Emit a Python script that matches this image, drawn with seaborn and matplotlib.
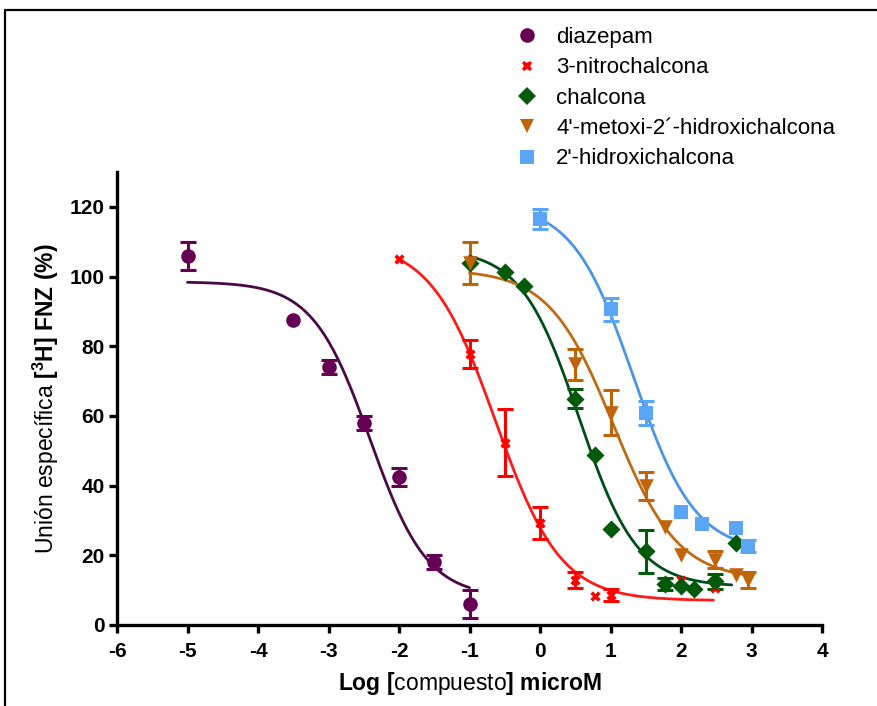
import numpy as np
import pandas as pd
import matplotlib
matplotlib.use("Agg")
import matplotlib.pyplot as plt
from matplotlib.lines import Line2D
import seaborn as sns

# ---------------- data ----------------
series_names = ["diazepam", "3-nitrochalcona", "chalcona",
                "4'-metoxi-2´-hidroxichalcona", "2'-hidroxichalcona"]

diaz_x = [-5, -3.5, -3, -2.5, -2, -1.5, -1]
diaz_y = [106, 87.5, 74, 58, 42.5, 18, 6]
diaz_err = [4, 0, 2, 2, 2.5, 2, 4]

nitro_x = [-2, -1, -0.5, 0, 0.5, 0.78, 1, 2, 2.48]
nitro_y = [105, 77.7, 52.3, 29.3, 12.9, 8.3, 8.6, 12.9, 10.6]
nitro_err = [0, 4, 9.6, 4.5, 2.2, 0, 1.7, 0, 0]

chal_x = [-1, -0.5, -0.22, 0.5, 0.78, 1, 1.5, 1.78, 2, 2.18, 2.48, 2.78]
chal_y = [103.9, 101.4, 97.4, 65, 48.7, 27.5, 21.1, 11.8, 11.2, 10.2, 12.5, 23.5]
chal_err = [0, 0, 0, 2.7, 0, 0, 6.3, 1.8, 0, 0, 2.2, 0]

metoxi_x = [-1, 0.5, 1, 1.5, 1.78, 2, 2.48, 2.78, 2.95]
metoxi_y = [104, 74.8, 60.9, 39.8, 28.1, 20.1, 18.7, 14.4, 12.9]
metoxi_err = [6, 4.5, 6.5, 4, 0, 0, 2.4, 0, 2.2]

hidroxi_x = [0, 1, 1.5, 2, 2.3, 2.78, 2.95]
hidroxi_y = [116.4, 90.6, 60.9, 32.3, 29.1, 27.8, 22.7]
hidroxi_err = [2.9, 3.3, 3.4, 0, 0, 0, 1.7]

# fitted sigmoid parameters
fit_top = [98.5, 110, 108, 102, 121]
fit_bottom = [8, 7, 11, 13, 21]
fit_logec50 = [-2.41, -0.63, 0.554, 1.04, 1.33]
fit_hill = [1.07, 0.94, 1.054, 0.95, 1.0]
fit_xmin = [-5, -2, -1, -1, 0]
fit_xmax = [-1, 2.46, 2.72, 2.9, 2.95]

x_ticks = [-6, -5, -4, -3, -2, -1, 0, 1, 2, 3, 4]
y_ticks = [0, 20, 40, 60, 80, 100, 120]

# ---------------- styles ----------------
marker_colors = ["#660055", "#FF0000", "#005A0A", "#C0640A", "#5AA5F5"]
line_colors = ["#4A0A48", "#FF1A1A", "#004D1A", "#C06A14", "#4A95E5"]
markers = ["o", "X", "D", "v", "s"]
marker_sizes = [110, 55, 85, 110, 90]

sns.set_theme(style="ticks")
plt.rcParams["font.family"] = ["Liberation Sans", "DejaVu Sans"]
plt.rcParams["mathtext.fontset"] = "custom"
plt.rcParams["mathtext.rm"] = "Liberation Sans"
plt.rcParams["mathtext.bf"] = "Liberation Sans:bold"
plt.rcParams["mathtext.it"] = "Liberation Sans:italic"
plt.rcParams["text.color"] = "black"
plt.rcParams["axes.labelcolor"] = "black"
plt.rcParams["xtick.color"] = "black"
plt.rcParams["ytick.color"] = "black"
plt.rcParams["xtick.labelcolor"] = "black"
plt.rcParams["ytick.labelcolor"] = "black"

fig = plt.figure(figsize=(8.78, 7.06), dpi=100)
ax = fig.add_axes([117 / 878, 1 - 625 / 706, (822 - 117) / 878, (625 - 172) / 706])

xs_all = [diaz_x, nitro_x, chal_x, metoxi_x, hidroxi_x]
ys_all = [diaz_y, nitro_y, chal_y, metoxi_y, hidroxi_y]
es_all = [diaz_err, nitro_err, chal_err, metoxi_err, hidroxi_err]

for i, name in enumerate(series_names):
    xc = np.linspace(fit_xmin[i], fit_xmax[i], 200)
    yc = fit_bottom[i] + (fit_top[i] - fit_bottom[i]) / (
        1 + 10 ** ((xc - fit_logec50[i]) * fit_hill[i]))
    sns.lineplot(x=xc, y=yc, color=line_colors[i], linewidth=2.0, ax=ax,
                 zorder=2, legend=False)

    df = pd.DataFrame({"x": xs_all[i], "y": ys_all[i], "err": es_all[i]})
    deb = df[df["err"] > 0]
    ax.errorbar(deb["x"], deb["y"], yerr=deb["err"], fmt="none",
                ecolor=marker_colors[i], elinewidth=2.2, capsize=5.5,
                capthick=2.2, zorder=3)
    sns.scatterplot(data=df, x="x", y="y", marker=markers[i],
                    color=marker_colors[i], s=marker_sizes[i],
                    linewidth=0, ax=ax, zorder=4, legend=False)

ax.set_xlim(-6, 4)
ax.set_ylim(0, 130)
ax.set_xticks(x_ticks)
ax.set_yticks(y_ticks)
ax.set_xticklabels([str(t) for t in x_ticks], fontsize=15, fontweight="bold")
ax.set_yticklabels([str(t) for t in y_ticks], fontsize=15, fontweight="bold")
for s in ["top", "right"]:
    ax.spines[s].set_visible(False)
for s in ["left", "bottom"]:
    ax.spines[s].set_linewidth(2.4)
    ax.spines[s].set_color("black")
ax.tick_params(axis="x", direction="out", length=6, width=2.4,
               color="black", pad=6)
ax.tick_params(axis="y", direction="out", length=6, width=2.4,
               color="black", pad=3)
ax.grid(False)

ax.set_xlabel(r"$\mathbf{Log\ [}$compuesto$\mathbf{]\ microM}$", fontsize=16.5,
              labelpad=7)
ax.set_ylabel(r"Unión específica $\mathbf{[^{3}H]\ FNZ\ (\%)}$", fontsize=16.5,
              labelpad=6)

# legend
handles = [Line2D([0], [0], marker=markers[i], color="none",
                  markerfacecolor=marker_colors[i], markeredgewidth=0,
                  markersize=np.sqrt(marker_sizes[i]), linestyle="none")
           for i in range(len(series_names))]
fig.legend(handles, series_names, loc="upper left",
           bbox_to_anchor=(505 / 878, 1 - 16 / 706), frameon=False,
           fontsize=16, handlelength=1.0, handletextpad=0.8,
           labelspacing=0.42, borderpad=0)

# figure frame (left and top edges)
fig.add_artist(Line2D([5 / 878, 5 / 878, 1.0], [0.0, 1 - 10 / 706, 1 - 10 / 706],
                      transform=fig.transFigure, color="black", linewidth=1.6))

fig.savefig("out.png", dpi=100)
